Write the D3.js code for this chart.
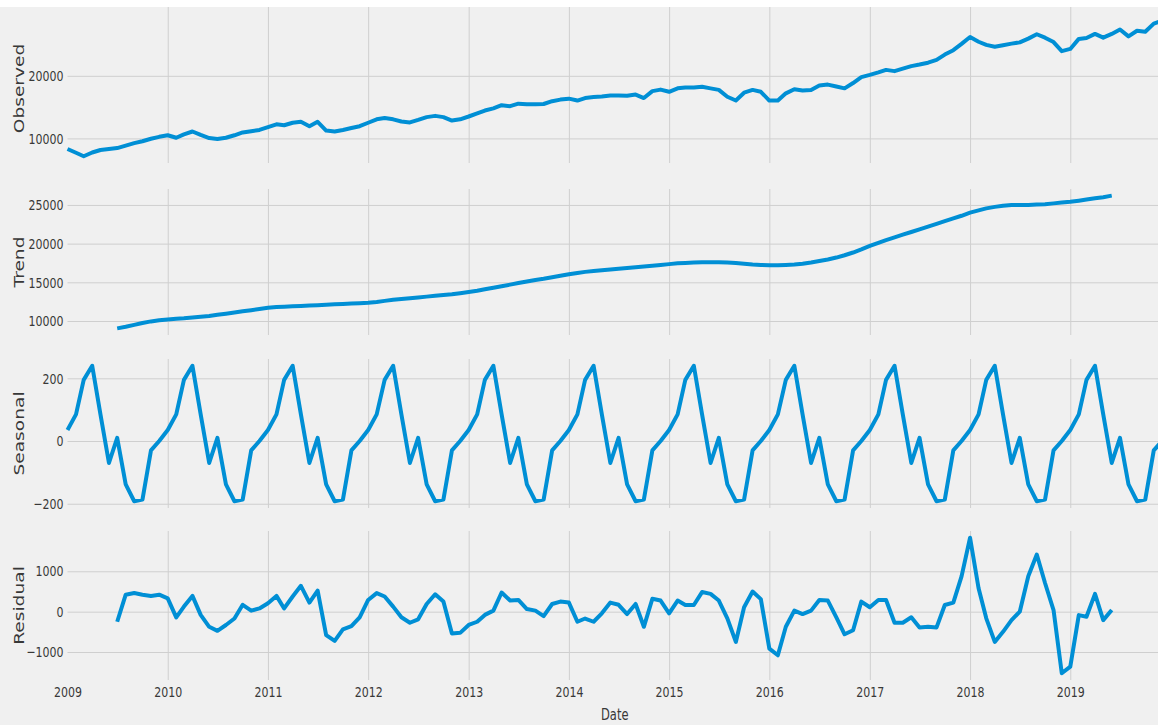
<!DOCTYPE html>
<html>
<head>
<meta charset="utf-8">
<script src="https://cdn.jsdelivr.net/npm/d3@7"></script>
<style>
  html, body { margin: 0; padding: 0; background: #f0f0f0; }
  svg { display: block; }
  text { font-family: "DejaVu Sans", sans-serif; }
</style>
</head>
<body>
<svg id="chart" width="1158" height="725"></svg>
<script>
// Monthly series, additive decomposition (observed / trend / seasonal / residual)
const observedStart = "2009-01";
const observed = [
  8300, 7700, 7150, 7750, 8150, 8300, 8450, 8850, 9250, 9550, 9950, 10250,
  10500, 10100, 10650, 11100, 10550, 10050, 9900, 10100, 10500, 10950, 11150, 11350,
  11800, 12250, 12100, 12500, 12650, 11950, 12650, 11250, 11100, 11350, 11650, 11950,
  12500, 13050, 13250, 13050, 12700, 12550, 12950, 13400, 13600, 13400, 12850, 13050,
  13500, 14000, 14450, 14800, 15300, 15150, 15550, 15450, 15450, 15500, 15950, 16200,
  16350, 16050, 16450, 16600, 16700, 16850, 16850, 16800, 17000, 16450, 17550, 17800,
  17450, 18000, 18150, 18150, 18250, 18000, 17750, 16650, 16050, 17300, 17750, 17450,
  16050, 16050, 17200, 17850, 17650, 17750, 18450, 18600, 18300, 18000, 18850, 19800,
  20150, 20550, 20950, 20750, 21150, 21550, 21800, 22100, 22550, 23400, 24100, 25100,
  26200, 25450, 24950, 24650, 24900, 25150, 25350, 25950, 26650, 26100, 25400, 23950,
  24300, 25900, 26050, 26700, 26100, 26700, 27400, 26300, 27200, 27050, 28350, 28800
];

const trendStart = "2009-07";
const trend = [
  9050, 9250, 9500, 9750, 9950, 10100,
  10200, 10300, 10350, 10450, 10550, 10650, 10800, 10950, 11100, 11250, 11400, 11550,
  11700, 11800, 11850, 11900, 11950, 12000, 12050, 12100, 12150, 12200, 12250, 12300,
  12350, 12450, 12600, 12750, 12850, 12950, 13050, 13150, 13250, 13350, 13450, 13600,
  13750, 13900, 14100, 14300, 14500, 14700, 14900, 15100, 15300, 15450, 15650, 15850,
  16050, 16200, 16350, 16450, 16550, 16650, 16750, 16850, 16950, 17050, 17150, 17250,
  17350, 17450, 17500, 17550, 17600, 17600, 17600, 17550, 17500, 17400, 17300, 17250,
  17200, 17200, 17250, 17300, 17400, 17550, 17750, 17950, 18200, 18500, 18850, 19250,
  19700, 20100, 20450, 20800, 21150, 21500, 21850, 22200, 22550, 22900, 23250, 23600,
  24000, 24300, 24550, 24750, 24900, 25000, 25000, 25000, 25050, 25100, 25200, 25300,
  25400, 25550, 25700, 25850, 26000, 26200
];

const seasonalStart = "2009-01";
const seasonal = [
  35, 85, 195, 240, 85, -70, 10, -138, -192, -187, -30, 0,
  35, 85, 195, 240, 85, -70, 10, -138, -192, -187, -30, 0,
  35, 85, 195, 240, 85, -70, 10, -138, -192, -187, -30, 0,
  35, 85, 195, 240, 85, -70, 10, -138, -192, -187, -30, 0,
  35, 85, 195, 240, 85, -70, 10, -138, -192, -187, -30, 0,
  35, 85, 195, 240, 85, -70, 10, -138, -192, -187, -30, 0,
  35, 85, 195, 240, 85, -70, 10, -138, -192, -187, -30, 0,
  35, 85, 195, 240, 85, -70, 10, -138, -192, -187, -30, 0,
  35, 85, 195, 240, 85, -70, 10, -138, -192, -187, -30, 0,
  35, 85, 195, 240, 85, -70, 10, -138, -192, -187, -30, 0,
  35, 85, 195, 240, 85, -70, 10, -138, -192, -187, -30, 0
];

const residualStart = "2009-07";
const residual = [
  -250, 420, 460, 420, 390, 420,
  330, -140, 125, 390, -80, -375, -475, -330, -170, 170, 25, 80,
  210, 390, 80, 375, 640, 225, 520, -580, -725, -440, -360, -140,
  290, 460, 375, 125, -140, -275, -190, 190, 430, 250, -540, -525,
  -330, -250, -80, 25, 475, 275, 290, 65, 25, -110, 190, 250,
  225, -250, -170, -250, -40, 225, 170, -60, 190, -375, 320, 275,
  -40, 275, 165, 165, 485, 440, 275, -165, -750, 110, 500, 310,
  -915, -1080, -375, 25, -60, 25, 290, 275, -140, -560, -460, 250,
  110, 290, 290, -275, -275, -140, -390, -375, -390, 165, 225, 875,
  1830, 580, -165, -750, -500, -210, 0, 875, 1415, 710, 40, -1525,
  -1360, -85, -125, 440, -210, 40
];

const yearTicks = ["2009", "2010", "2011", "2012", "2013", "2014", "2015", "2016", "2017", "2018", "2019"];
const observedTicks = [10000, 20000];
const trendTicks = [10000, 15000, 20000, 25000];
const seasonalTicks = [-200, 0, 200];
const residualTicks = [-1000, 0, 1000];

// ---- drawing ----
const W = 1158, H = 725;
const LINE = "#008fd5", GRID = "#cfcfcf", INK = "#383838";
const STRETCH = 1.33;           // glyphs are drawn taller than wide
const parseMonth = d3.utcParse("%Y-%m");
const parseYear = d3.utcParse("%Y");

const svg = d3.select("#chart");
svg.append("rect").attr("width", W).attr("height", H).attr("fill", "#f0f0f0");

const x = d3.scaleUtc()
  .domain([parseMonth("2009-01"), parseMonth("2019-12")])
  .range([67.5, 1162]);
const [x0, x1] = x.range();

const series = (start, values) => {
  const s = parseMonth(start);
  return values.map((v, i) => ({ date: d3.utcMonth.offset(s, i), value: v }));
};

const fmt = d => d < 0 ? "\u2212" + Math.abs(d) : String(d);

const panels = [
  { label: "Observed", data: series(observedStart, observed), ticks: observedTicks, top: 14, bottom: 163, gridTop: 7 },
  { label: "Trend",    data: series(trendStart, trend),       ticks: trendTicks,    top: 189, bottom: 335 },
  { label: "Seasonal", data: series(seasonalStart, seasonal), ticks: seasonalTicks, top: 359, bottom: 508 },
  { label: "Residual", data: series(residualStart, residual), ticks: residualTicks, top: 531, bottom: 680 }
];

const yearDates = yearTicks.map(parseYear);

panels.forEach((p, idx) => {
  const ext = d3.extent(p.data, d => d.value);
  const pad = (ext[1] - ext[0]) * 0.05;
  const y = d3.scaleLinear().domain([ext[0] - pad, ext[1] + pad]).range([p.bottom, p.top]);
  const g = svg.append("g");
  const gridTop = p.gridTop !== undefined ? p.gridTop : p.top;

  // horizontal grid
  g.append("g")
    .call(d3.axisLeft(y).tickValues(p.ticks).tickSize(-(x1 - x0)).tickFormat(""))
    .attr("transform", `translate(${x0},0)`)
    .call(a => a.select(".domain").remove())
    .call(a => a.selectAll("line").attr("stroke", GRID).attr("stroke-width", 1));

  // vertical grid at each year
  g.append("g")
    .attr("transform", `translate(0,${p.bottom})`)
    .call(d3.axisBottom(x).tickValues(yearDates.slice(1)).tickSize(-(p.bottom - gridTop)).tickFormat(""))
    .call(a => a.select(".domain").remove())
    .call(a => a.selectAll("line").attr("stroke", GRID).attr("stroke-width", 1));

  // y tick labels
  g.append("g")
    .attr("transform", `translate(${x0},0)`)
    .call(d3.axisLeft(y).tickValues(p.ticks).tickSize(0).tickPadding(4).tickFormat(fmt))
    .call(a => a.select(".domain").remove())
    .call(a => a.selectAll("text")
      .attr("font-size", 11)
      .attr("font-family", "DejaVu Sans")
      .attr("fill", INK)
      .attr("transform", `scale(1,${STRETCH})`));

  // series line
  g.append("path")
    .datum(p.data)
    .attr("fill", "none")
    .attr("stroke", LINE)
    .attr("stroke-width", 4)
    .attr("stroke-linejoin", "round")
    .attr("d", d3.line().x(d => x(d.date)).y(d => y(d.value)));

  // panel label
  g.append("text")
    .attr("transform", `translate(24,${(p.top + p.bottom) / 2}) rotate(-90) scale(${STRETCH},1)`)
    .attr("text-anchor", "middle")
    .attr("font-size", 14)
    .attr("fill", INK)
    .text(p.label);

  // shared date axis under the last panel
  if (idx === panels.length - 1) {
    g.append("g")
      .attr("transform", `translate(0,${p.bottom})`)
      .call(d3.axisBottom(x).tickValues(yearDates).tickSize(0).tickPadding(5).tickFormat(d3.utcFormat("%Y")))
      .call(a => a.select(".domain").remove())
      .call(a => a.selectAll("text")
        .attr("font-size", 11)
        .attr("font-family", "DejaVu Sans")
        .attr("fill", INK)
        .attr("transform", `scale(1,${STRETCH})`));

    g.append("text")
      .attr("transform", `translate(${(x0 + x1) / 2},720) scale(1,${STRETCH})`)
      .attr("text-anchor", "middle")
      .attr("font-size", 11.5)
      .attr("fill", INK)
      .text("Date");
  }
});

// white page strip above the figure
svg.append("rect").attr("x", 0).attr("y", 0).attr("width", W).attr("height", 7).attr("fill", "#ffffff");
</script>
</body>
</html>
